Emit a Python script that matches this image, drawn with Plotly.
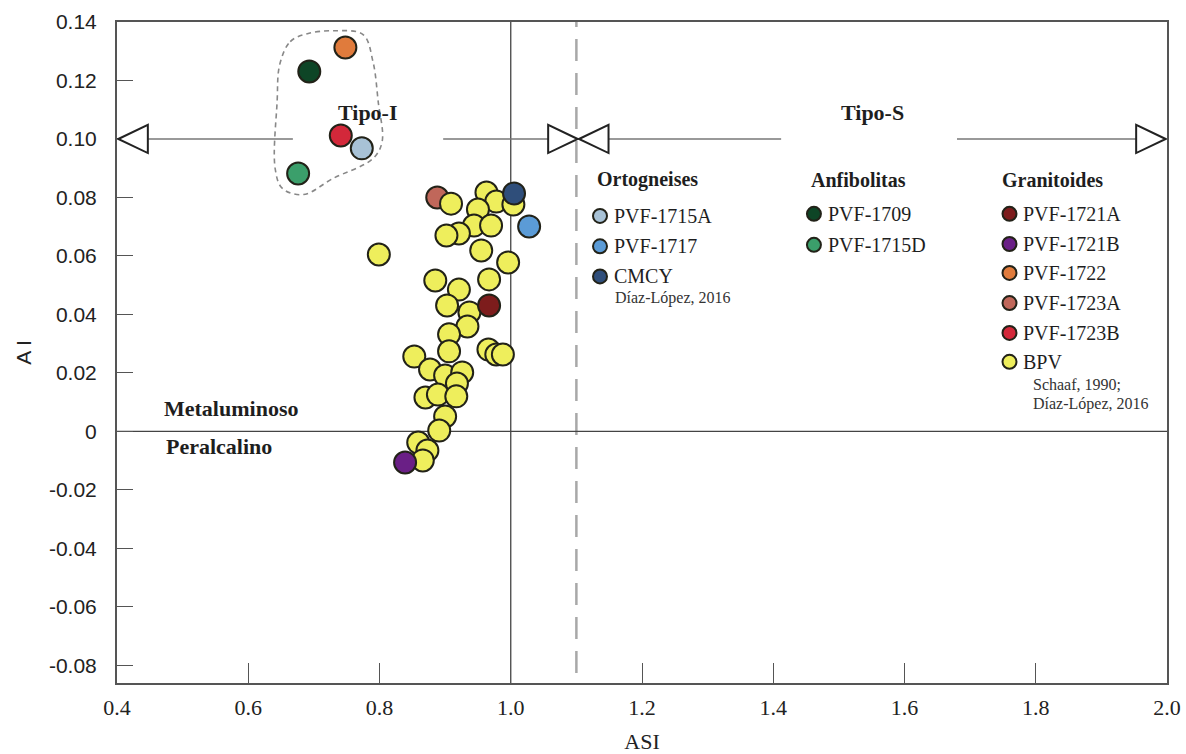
import plotly.graph_objects as go

# ---------------------------------------------------------------------------
# Data: ASI (x) vs A.I. (y)
# ---------------------------------------------------------------------------
# BPV granitoids (Schaaf, 1990; Díaz-López, 2016)
bpv_asi = [0.909, 0.963, 0.978, 1.004, 0.950, 0.944, 0.970, 0.921, 0.902,
           0.799, 0.955, 0.996, 0.885, 0.967, 0.921, 0.903, 0.937, 0.934,
           0.906, 0.906, 0.966, 0.978, 0.988, 0.853, 0.877, 0.900, 0.926,
           0.918, 0.870, 0.889, 0.917, 0.900, 0.891, 0.859, 0.873, 0.866]
bpv_ai = [0.0779, 0.0817, 0.0786, 0.0776, 0.0759, 0.0704, 0.0704, 0.0677,
          0.0670, 0.0605, 0.0619, 0.0578, 0.0516, 0.0520, 0.0485, 0.0431,
          0.0407, 0.0359, 0.0332, 0.0274, 0.0280, 0.0263, 0.0263, 0.0256,
          0.0212, 0.0191, 0.0202, 0.0164, 0.0116, 0.0126, 0.0120, 0.0051,
          0.0003, -0.0038, -0.0065, -0.0099]

# Individual samples
sample_names = ["PVF-1715A", "PVF-1717", "CMCY",
                "PVF-1709", "PVF-1715D",
                "PVF-1721A", "PVF-1721B", "PVF-1722", "PVF-1723A", "PVF-1723B"]
sample_asi = [0.773, 1.028, 1.005,
              0.693, 0.676,
              0.967, 0.839, 0.748, 0.888, 0.741]
sample_ai = [0.0968, 0.0701, 0.0814,
             0.1231, 0.0882,
             0.0431, -0.0106, 0.1313, 0.0800, 0.1012]

# Legend groups
group_titles = ["Ortogneises", "Anfibolitas", "Granitoides"]
group_members = [["PVF-1715A", "PVF-1717", "CMCY"],
                 ["PVF-1709", "PVF-1715D"],
                 ["PVF-1721A", "PVF-1721B", "PVF-1722", "PVF-1723A",
                  "PVF-1723B", "BPV"]]

# Axis ticks
x_ticks = [0.4, 0.6, 0.8, 1.0, 1.2, 1.4, 1.6, 1.8, 2.0]
y_ticks = [0.14, 0.12, 0.10, 0.08, 0.06, 0.04, 0.02, 0.0,
           -0.02, -0.04, -0.06, -0.08]
y_ticktext = ["0.14", "0.12", "0.10", "0.08", "0.06", "0.04", "0.02", "0",
              "-0.02", "-0.04", "-0.06", "-0.08"]

# Outline drawn around the I-type cluster (ASI, A.I.)
outline_asi = [0.648, 0.664, 0.690, 0.729, 0.775, 0.790, 0.798, 0.804,
               0.790, 0.729, 0.684, 0.652, 0.641, 0.644, 0.648]
outline_ai = [0.1255, 0.1333, 0.1360, 0.1370, 0.1357, 0.1265, 0.1128,
              0.0991, 0.0933, 0.0865, 0.0810, 0.0831, 0.0899, 0.1128, 0.1255]

# ---------------------------------------------------------------------------
# Styling
# ---------------------------------------------------------------------------
colors = {
    "PVF-1715A": "#a8c2d6",
    "PVF-1717": "#5b9bd6",
    "CMCY": "#2f4e7a",
    "PVF-1709": "#0e4526",
    "PVF-1715D": "#3b9f6b",
    "PVF-1721A": "#7d1c1c",
    "PVF-1721B": "#6a1f86",
    "PVF-1722": "#e07b3c",
    "PVF-1723A": "#c0675a",
    "PVF-1723B": "#d3283a",
    "BPV": "#eeee5c",
}
EDGE = "#222218"
SERIF = "Liberation Serif"
SANS = "Liberation Sans"
AXIS_COLOR = "#555555"
MSIZE = 22

fig = go.Figure()

# I-type cluster outline
fig.add_trace(go.Scatter(
    x=outline_asi, y=outline_ai, mode="lines",
    line=dict(color="#888888", width=1.6, dash="5px,4px", shape="spline",
              smoothing=1.0),
    hoverinfo="skip", showlegend=False))


def add_sample(name):
    i = sample_names.index(name)
    fig.add_trace(go.Scatter(
        x=[sample_asi[i]], y=[sample_ai[i]], mode="markers", name=name,
        marker=dict(size=MSIZE, color=colors[name],
                    line=dict(color=EDGE, width=2)),
        showlegend=False))


# drawing order: PVF-1723A sits below the BPV cloud, others above it
add_sample("PVF-1723A")
fig.add_trace(go.Scatter(
    x=bpv_asi, y=bpv_ai, mode="markers", name="BPV",
    marker=dict(size=MSIZE, color=colors["BPV"],
                line=dict(color=EDGE, width=2)),
    showlegend=False))
for nm in sample_names:
    if nm != "PVF-1723A":
        add_sample(nm)

shapes = []
# reference lines
shapes.append(dict(type="line", xref="x", yref="y", x0=0.4, x1=2.0, y0=0, y1=0,
                   line=dict(color="#444444", width=1.3), layer="below"))
shapes.append(dict(type="line", xref="x", yref="paper", x0=1.0, x1=1.0, y0=0, y1=1,
                   line=dict(color="#444444", width=1.3), layer="below"))
shapes.append(dict(type="line", xref="x", yref="paper", x0=1.1, x1=1.1, y0=0.015, y1=1,
                   line=dict(color="#a8a8a8", width=2.5, dash="22px,12px"),
                   layer="below"))

# Tipo-I / Tipo-S guide line at A.I. = 0.1 with open arrowheads
ARROW_Y = 0.10
line_segments = [(0.443, 0.668), (0.897, 1.059), (1.145, 1.412), (1.680, 1.957)]
for a, b in line_segments:
    shapes.append(dict(type="line", xref="x", yref="y", x0=a, x1=b,
                       y0=ARROW_Y, y1=ARROW_Y,
                       line=dict(color="#777777", width=1.6), layer="below"))

TRI_W = 0.045   # arrowhead length along ASI
TRI_H = 0.0048  # arrowhead half-height in A.I.
arrow_tips = [(0.402, -1), (1.102, 1), (1.104, -1), (1.998, 1)]
for tip, direction in arrow_tips:
    base = tip - direction * TRI_W
    path = (f"M {tip},{ARROW_Y} L {base},{ARROW_Y + TRI_H} "
            f"L {base},{ARROW_Y - TRI_H} Z")
    shapes.append(dict(type="path", xref="x", yref="y", path=path,
                       fillcolor="white", line=dict(color="#222222", width=2)))

annotations = []


def label(text, x, y, size, bold=False, xanchor="center", family=SERIF,
          color="#1e1e1e"):
    annotations.append(dict(
        text=f"<b>{text}</b>" if bold else text, x=x, y=y, xref="x", yref="y",
        showarrow=False, xanchor=xanchor, yanchor="middle",
        font=dict(family=family, size=size, color=color)))


label("Tipo-I", 0.783, 0.1089, 22, bold=True)
label("Tipo-S", 1.551, 0.1089, 22, bold=True)
label("Metaluminoso", 0.574, 0.0079, 22, bold=True)
label("Peralcalino", 0.556, -0.0050, 22, bold=True)

# Legend, three columns
col_header_x = [1.128, 1.455, 1.746]
col_marker_x = [1.136, 1.462, 1.760]
col_text_x = [1.154, 1.480, 1.778]
header_y = 0.0860
row_y = [[0.0737, 0.0633, 0.0530],
         [0.0744, 0.0638],
         [0.0744, 0.0641, 0.0542, 0.0439, 0.0337, 0.0238]]

for c, title in enumerate(group_titles):
    label(title, col_header_x[c], header_y, 20, bold=True, xanchor="left")
    for r, member in enumerate(group_members[c]):
        yy = row_y[c][r]
        shapes.append(dict(type="circle", xref="x", yref="y",
                           xsizemode="pixel", ysizemode="pixel",
                           xanchor=col_marker_x[c], yanchor=yy,
                           x0=-7, x1=7, y0=-7, y1=7,
                           fillcolor=colors[member],
                           line=dict(color=EDGE, width=2)))
        label(member, col_text_x[c], yy, 20, xanchor="left")

label("Díaz-López, 2016", 1.156, 0.0455, 16, xanchor="left", color="#333333")
label("Schaaf, 1990;", 1.793, 0.0162, 16, xanchor="left", color="#333333")
label("Díaz-López, 2016", 1.793, 0.0094, 16, xanchor="left", color="#333333")

fig.update_layout(
    width=1186, height=754,
    margin=dict(l=117, r=19, t=22, b=71),
    paper_bgcolor="white", plot_bgcolor="white",
    shapes=shapes, annotations=annotations,
    showlegend=False,
    xaxis=dict(
        range=[0.4, 2.0], tickvals=x_ticks,
        ticktext=[f"{v:.1f}" for v in x_ticks],
        ticks="inside", ticklen=20, tickwidth=1.2, tickcolor=AXIS_COLOR,
        showline=True, linecolor=AXIS_COLOR, linewidth=2, mirror=True,
        showgrid=False, zeroline=False, automargin=False,
        tickfont=dict(family=SERIF, size=22, color="#222222"),
        ticklabelstandoff=4,
        title=dict(text="ASI", font=dict(family=SERIF, size=22, color="#222222"),
                   standoff=16),
    ),
    yaxis=dict(
        range=[-0.086, 0.14], tickvals=y_ticks, ticktext=y_ticktext,
        ticks="inside", ticklen=16, tickwidth=1.2, tickcolor=AXIS_COLOR,
        showline=True, linecolor=AXIS_COLOR, linewidth=2, mirror=True,
        showgrid=False, zeroline=False, automargin=False,
        tickfont=dict(family=SANS, size=21, color="#222222"),
        ticklabelstandoff=14,
        title=dict(text="A I", font=dict(family=SANS, size=21, color="#222222"),
                   standoff=12),
    ),
)

fig.write_html("out.html")
